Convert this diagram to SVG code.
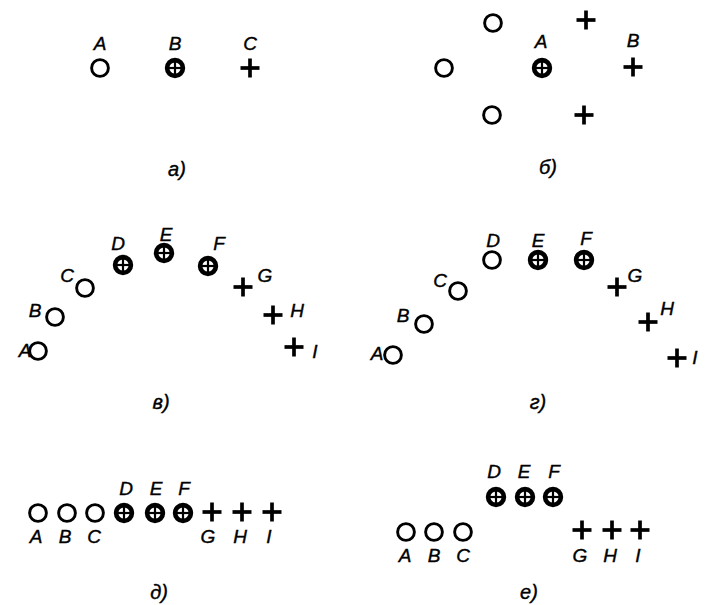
<svg xmlns="http://www.w3.org/2000/svg" width="706" height="605" viewBox="0 0 706 605">
<defs>
<style>
.o{fill:#fff;stroke:#000;stroke-width:2.9}
.pc{fill:#fff;stroke:#000;stroke-width:4.6}
.x{stroke:#000;stroke-width:2.2}
.p{stroke:#000;stroke-width:3.7}
text{font-family:"Liberation Sans","DejaVu Sans",sans-serif;font-style:italic;font-size:19px;fill:#000;stroke:#000;stroke-width:0.4;text-anchor:middle}
.cap{font-size:20px}
</style>
<g id="O"><circle class="o" r="8.4"/></g>
<g id="OP"><circle class="pc" r="7.9"/><line class="x" x1="-8" y1="0" x2="8" y2="0"/><line class="x" x1="0" y1="-8" x2="0" y2="8"/></g>
<g id="P"><line class="p" x1="-9.5" y1="0" x2="9.5" y2="0"/><line class="p" x1="0" y1="-9.5" x2="0" y2="9.5"/></g>
</defs>
<rect width="706" height="605" fill="#fff"/>

<g id="panel-a">
<use href="#O" x="100" y="68"/><use href="#OP" x="175" y="68"/><use href="#P" x="250" y="68"/>
<text x="100" y="50">A</text><text x="175" y="50">B</text><text x="250" y="50">C</text>
<text class="cap" x="177" y="176">а)</text>
</g>

<g id="panel-b">
<use href="#O" x="493" y="23"/><use href="#O" x="444" y="68"/><use href="#O" x="492" y="115"/>
<use href="#OP" x="542" y="68"/>
<use href="#P" x="586" y="20"/><use href="#P" x="633" y="67"/><use href="#P" x="584" y="115"/>
<text x="541" y="48">A</text><text x="633" y="47">B</text>
<text class="cap" x="548" y="174">б)</text>
</g>

<g id="panel-v">
<use href="#O" x="38" y="351"/><use href="#O" x="55" y="317"/><use href="#O" x="85" y="288"/>
<use href="#OP" x="123" y="265"/><use href="#OP" x="164" y="253"/><use href="#OP" x="208" y="266"/>
<use href="#P" x="243" y="287"/><use href="#P" x="273" y="315"/><use href="#P" x="294" y="347"/>
<text x="25" y="357">A</text><text x="35" y="317">B</text><text x="67" y="282">C</text>
<text x="118" y="250">D</text><text x="166" y="241">E</text><text x="219" y="250">F</text>
<text x="265" y="282">G</text><text x="297" y="317">H</text><text x="315" y="358">I</text>
<text class="cap" x="161" y="409">в)</text>
</g>

<g id="panel-g">
<use href="#O" x="393" y="355"/><use href="#O" x="424" y="324"/><use href="#O" x="458" y="291"/>
<use href="#O" x="492" y="260"/><use href="#OP" x="538" y="260"/><use href="#OP" x="584" y="260"/>
<use href="#P" x="617" y="287"/><use href="#P" x="648" y="322"/><use href="#P" x="677" y="358"/>
<text x="377" y="360">A</text><text x="403" y="322">B</text><text x="440" y="287">C</text>
<text x="493" y="247">D</text><text x="538" y="247">E</text><text x="586" y="245">F</text>
<text x="635" y="282">G</text><text x="667" y="315">H</text><text x="695" y="364">I</text>
<text class="cap" x="538" y="409">г)</text>
</g>

<g id="panel-d">
<use href="#O" x="38" y="513"/><use href="#O" x="67" y="513"/><use href="#O" x="95" y="513"/>
<use href="#OP" x="124" y="513"/><use href="#OP" x="155" y="513"/><use href="#OP" x="183" y="513"/>
<use href="#P" x="212" y="512"/><use href="#P" x="242" y="512"/><use href="#P" x="272" y="512"/>
<text x="36" y="543">A</text><text x="65" y="543">B</text><text x="94" y="543">C</text>
<text x="126" y="495">D</text><text x="156" y="495">E</text><text x="184" y="495">F</text>
<text x="208" y="543">G</text><text x="240" y="543">H</text><text x="269" y="543">I</text>
<text class="cap" x="159" y="599">д)</text>
</g>

<g id="panel-e">
<use href="#OP" x="496" y="497"/><use href="#OP" x="525" y="497"/><use href="#OP" x="553" y="497"/>
<use href="#O" x="406" y="532"/><use href="#O" x="434" y="532"/><use href="#O" x="463" y="532"/>
<use href="#P" x="582" y="530"/><use href="#P" x="612" y="530"/><use href="#P" x="640" y="530"/>
<text x="494" y="478">D</text><text x="524" y="478">E</text><text x="554" y="478">F</text>
<text x="405" y="562">A</text><text x="434" y="562">B</text><text x="463" y="562">C</text>
<text x="580" y="562">G</text><text x="610" y="562">H</text><text x="638" y="562">I</text>
<text class="cap" x="529" y="599">е)</text>
</g>
</svg>
